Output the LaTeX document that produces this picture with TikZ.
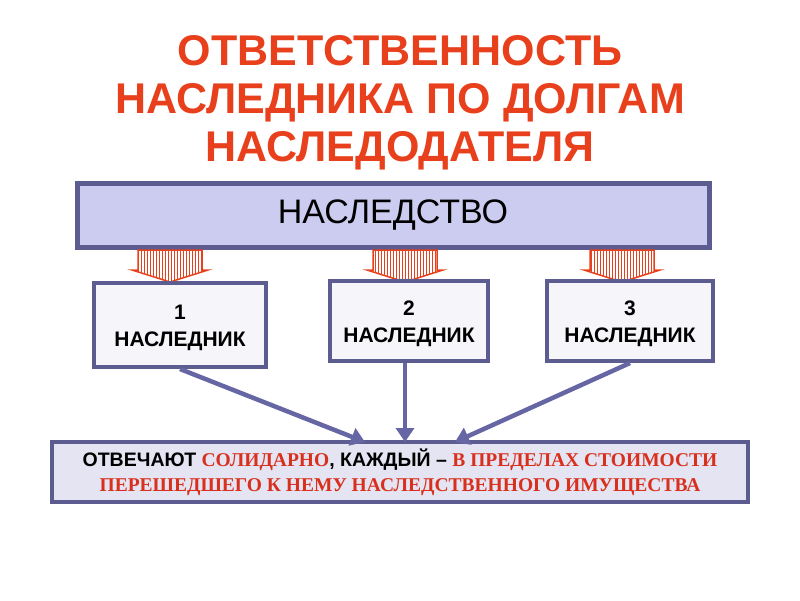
\documentclass[tikz,border=0pt]{standalone}
\usepackage{fontspec}
\setmainfont{Liberation Sans}
\newfontfamily\serifred{Liberation Serif}
\usetikzlibrary{arrows.meta,patterns}
\definecolor{titlered}{HTML}{E8401C}
\definecolor{boxline}{HTML}{5C5C90}
\definecolor{boxfill}{HTML}{CCCCF0}
\definecolor{lowfill}{HTML}{E4E4F2}
\definecolor{heirfill}{HTML}{F6F6FA}
\definecolor{arrowblue}{HTML}{6666A4}
\definecolor{txtred}{HTML}{D8301C}
\begin{document}
\begin{tikzpicture}[x=1pt,y=-1pt]
    \tikzstyle{heir}=[draw=boxline,line width=4pt,fill=heirfill,minimum height=80pt,align=center,font=\bfseries\fontsize{21}{27}\selectfont]
    \tikzstyle{link}=[draw=arrowblue,line width=4.5pt,-{Triangle[length=14pt,width=18pt]}]
    \tikzstyle{redarrow}=[draw=titlered,line width=1.5pt,pattern={vertical lines},pattern color=titlered]
    \useasboundingbox (0,0) rectangle (800,600);

    % title
    \node[text=titlered,align=center,font=\bfseries\fontsize{43}{48}\selectfont] (title) at (400,103)
      {ОТВЕТСТВЕННОСТЬ\\НАСЛЕДНИКА ПО ДОЛГАМ\\НАСЛЕДОДАТЕЛЯ};

    % inheritance box
    \node[draw=boxline,line width=5pt,fill=boxfill,minimum width=632pt,minimum height=64pt,
      font=\fontsize{34}{40}\selectfont] (estate) at (393,215) {НАСЛЕДСТВО};

    % red arrows
    \foreach \x in {170,405,622}
      \filldraw[redarrow] (\x-32,250) -- (\x+32,250) -- (\x+32,270) -- (\x+38,270)
        -- (\x,282) -- (\x-38,270) -- (\x-32,270) -- cycle;

    % heirs
    \node[heir,minimum width=172pt,minimum height=84pt] (h1) at (180,325) {};
    \node[heir,minimum width=158pt] (h2) at (409,321) {};
    \node[heir,minimum width=166pt] (h3) at (630,321) {};
    \node[heir,draw=none,fill=none] (t1) at (180,328) {1\\НАСЛЕДНИК};
    \node[heir,draw=none,fill=none] (t2) at (409,324) {2\\НАСЛЕДНИК};
    \node[heir,draw=none,fill=none] (t3) at (630,324) {3\\НАСЛЕДНИК};

    % result box
    \node[draw=boxline,line width=4.5pt,fill=lowfill,minimum width=696pt,minimum height=60pt,
      align=center,font=\bfseries\fontsize{19.5}{25}\selectfont] (duty) at (400,472)
      {ОТВЕЧАЮТ {\serifred\color{txtred}СОЛИДАРНО}, КАЖДЫЙ -- {\serifred\color{txtred}В ПРЕДЕЛАХ СТОИМОСТИ}\\
       {\serifred\color{txtred}ПЕРЕШЕДШЕГО К НЕМУ НАСЛЕДСТВЕННОГО ИМУЩЕСТВА}};

    % connectors
    \draw[link] (h1.south) -- (365,442);
    \draw[link] (h2.south-|405,0) -- (405,442);
    \draw[link] (h3.south) -- (455,442);
\end{tikzpicture}
\end{document}
